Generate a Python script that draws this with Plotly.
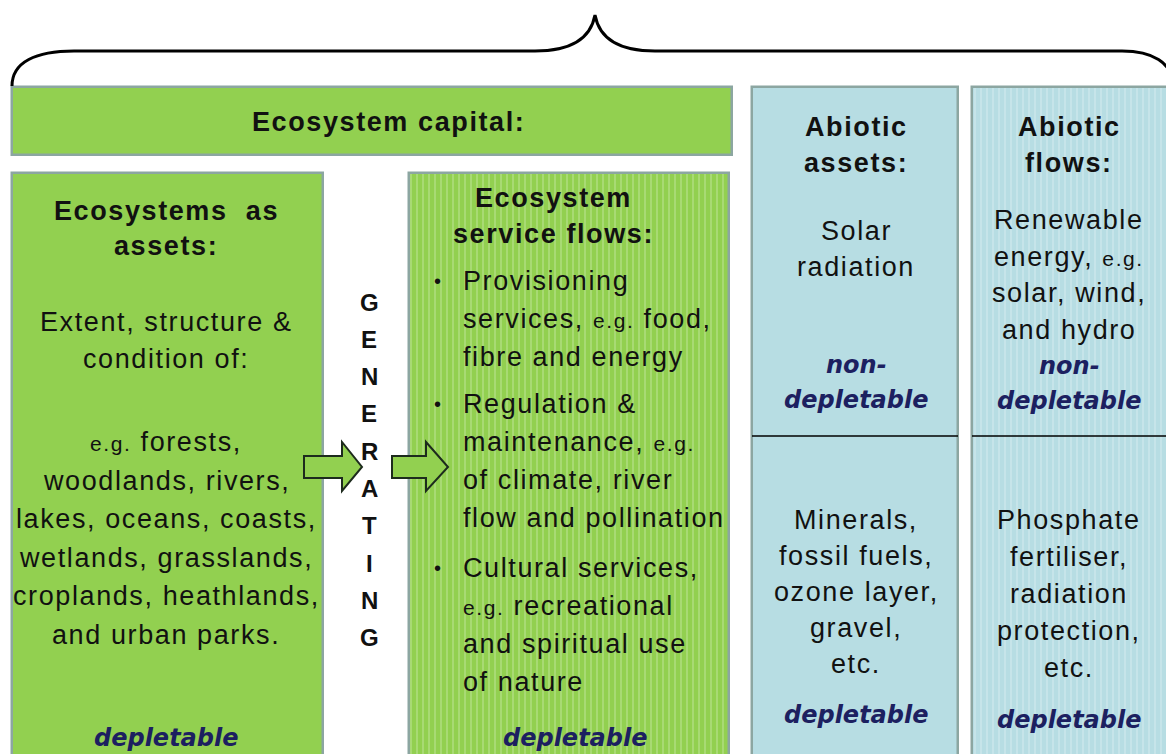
import plotly.graph_objects as go

W, H = 1166, 754

GREEN = "#92d050"
BLUE = "#b7dde3"
EDGE = "#8ca6a1"
INK = "#111111"
NAVY = "#1c2060"
EG = "<span style='font-size:21px'>e.g.</span>"

# boxes: name, x0, x1, y0, y1, fill, patterned
box_names = ["capital", "eco_assets", "eco_flows", "abiotic_assets", "abiotic_flows"]
box_x0 = [12, 12, 409, 752, 972]
box_x1 = [732, 323, 729, 958, 1185]
box_y0 = [87, 173, 173, 87, 87]
box_y1 = [155, 770, 770, 770, 770]
box_fill = [GREEN, GREEN, GREEN, BLUE, BLUE]
box_pattern = [False, False, True, False, True]

# text content
capital_title = ["Ecosystem capital:"]
assets_title = ["Ecosystems&nbsp;&nbsp;as", "assets:"]
assets_text = ["Extent, structure &", "condition of:"]
assets_examples = [EG + " forests,", "woodlands, rivers,", "lakes, oceans, coasts,",
                   "wetlands, grasslands,", "croplands, heathlands,", "and urban parks."]
flows_title = ["Ecosystem", "service flows:"]
bullet_1 = ["Provisioning", "services, " + EG + " food,", "fibre and energy"]
bullet_2 = ["Regulation &", "maintenance, " + EG, "of climate, river", "flow and pollination"]
bullet_3 = ["Cultural services,", EG + " recreational", "and spiritual use", "of nature"]
generating = list("GENERATING")
ab_assets_title = ["Abiotic", "assets:"]
ab_assets_top = ["Solar", "radiation"]
ab_assets_bottom = ["Minerals,", "fossil fuels,", "ozone layer,", "gravel,", "etc."]
ab_flows_title = ["Abiotic", "flows:"]
ab_flows_top = ["Renewable", "energy, " + EG, "solar, wind,", "and hydro"]
ab_flows_bottom = ["Phosphate", "fertiliser,", "radiation", "protection,", "etc."]
non_depl = ["non-", "depletable"]
depl = ["depletable"]

fig = go.Figure()

for i, name in enumerate(box_names):
    pat = dict(shape="|", fgcolor="white", fgopacity=0.45, size=6, solidity=0.15) if box_pattern[i] else dict(shape="")
    fig.add_trace(go.Bar(
        x=[(box_x0[i] + box_x1[i]) / 2], y=[box_y1[i] - box_y0[i]], base=[box_y0[i]],
        width=[box_x1[i] - box_x0[i]], name=name, hoverinfo="skip", showlegend=False,
        marker=dict(color=box_fill[i], line=dict(color=EDGE, width=2.5), pattern=pat),
    ))

shapes = []
# curly brace over everything
shapes.append(dict(type="path", line=dict(color="black", width=3),
                   path="M 12,86 C 12,62 36,51 74,51 L 535,51 C 566,51 590,42 595,15 "
                        "C 600,42 624,51 655,51 L 1122,51 C 1152,51 1172,62 1174,86"))
# divider in abiotic columns
for x0, x1 in [(752, 958), (972, 1166)]:
    shapes.append(dict(type="line", x0=x0, x1=x1, y0=436, y1=436, line=dict(color="black", width=1.5)))
# block arrows
for sx0, sx1, tip in [(304, 342, 362), (392, 426, 448)]:
    p = (f"M {sx0},456 L {sx1},456 L {sx1},442 L {tip},467 L {sx1},491 "
         f"L {sx1},478 L {sx0},478 Z")
    shapes.append(dict(type="path", path=p, fillcolor=GREEN, line=dict(color="#1d2b1d", width=2), layer="above"))

fig.update_layout(shapes=shapes)

ann = []


def add_lines(lines, x, y0, dy, size=27, weight="normal", family="Liberation Sans, Arial",
              color=INK, style="normal", xanchor="center", spacing=1.6):
    for k, t in enumerate(lines):
        if spacing:
            t = f"<span style='letter-spacing:{spacing}px'>{t}</span>"
        ann.append(dict(x=x, y=y0 + k * dy, xref="x", yref="y", text=t, showarrow=False,
                        xanchor=xanchor, yanchor="middle",
                        font=dict(family=family, size=size, color=color, weight=weight, style=style)))


def add_depl(lines, x, y0, dy=35):
    add_lines(lines, x, y0, dy, size=24, family="DejaVu Sans", color=NAVY, style="italic",
              weight="bold", spacing=0)


add_lines(capital_title, 388, 122, 0, weight="bold")
add_lines(assets_title, 166, 211, 35, weight="bold")
add_lines(assets_text, 166, 322, 37)
add_lines(assets_examples, 166, 442, 38.5)
add_depl(depl, 166, 738)

add_lines(generating, 369, 302, 37.3, size=24, weight="bold", spacing=0)

add_lines(flows_title, 553, 198, 36, weight="bold")
for lines, y0 in [(bullet_1, 281), (bullet_2, 404), (bullet_3, 568)]:
    add_lines(["•"], 437, y0, 0, size=20, spacing=0)
    add_lines(lines, 461, y0, 38, xanchor="left")
add_depl(depl, 575, 738)

add_lines(ab_assets_title, 856, 127, 36, weight="bold")
add_lines(ab_assets_top, 856, 231, 36)
add_depl(non_depl, 856, 365)
add_lines(ab_assets_bottom, 856, 520, 36)
add_depl(depl, 856, 715)

add_lines(ab_flows_title, 1069, 127, 36, weight="bold")
add_lines(ab_flows_top, 1069, 220, 36.5)
add_depl(non_depl, 1069, 366)
add_lines(ab_flows_bottom, 1069, 520, 37)
add_depl(depl, 1069, 720)

fig.update_layout(
    annotations=ann,
    width=W, height=H,
    margin=dict(l=0, r=0, t=0, b=0),
    paper_bgcolor="white", plot_bgcolor="white",
    barmode="overlay", bargap=0,
    xaxis=dict(range=[0, W], visible=False, fixedrange=True),
    yaxis=dict(range=[H, 0], visible=False, fixedrange=True),
    showlegend=False,
)

fig.write_html("out.html", config={"displayModeBar": False},
               post_script="document.body.style.margin='0';")
